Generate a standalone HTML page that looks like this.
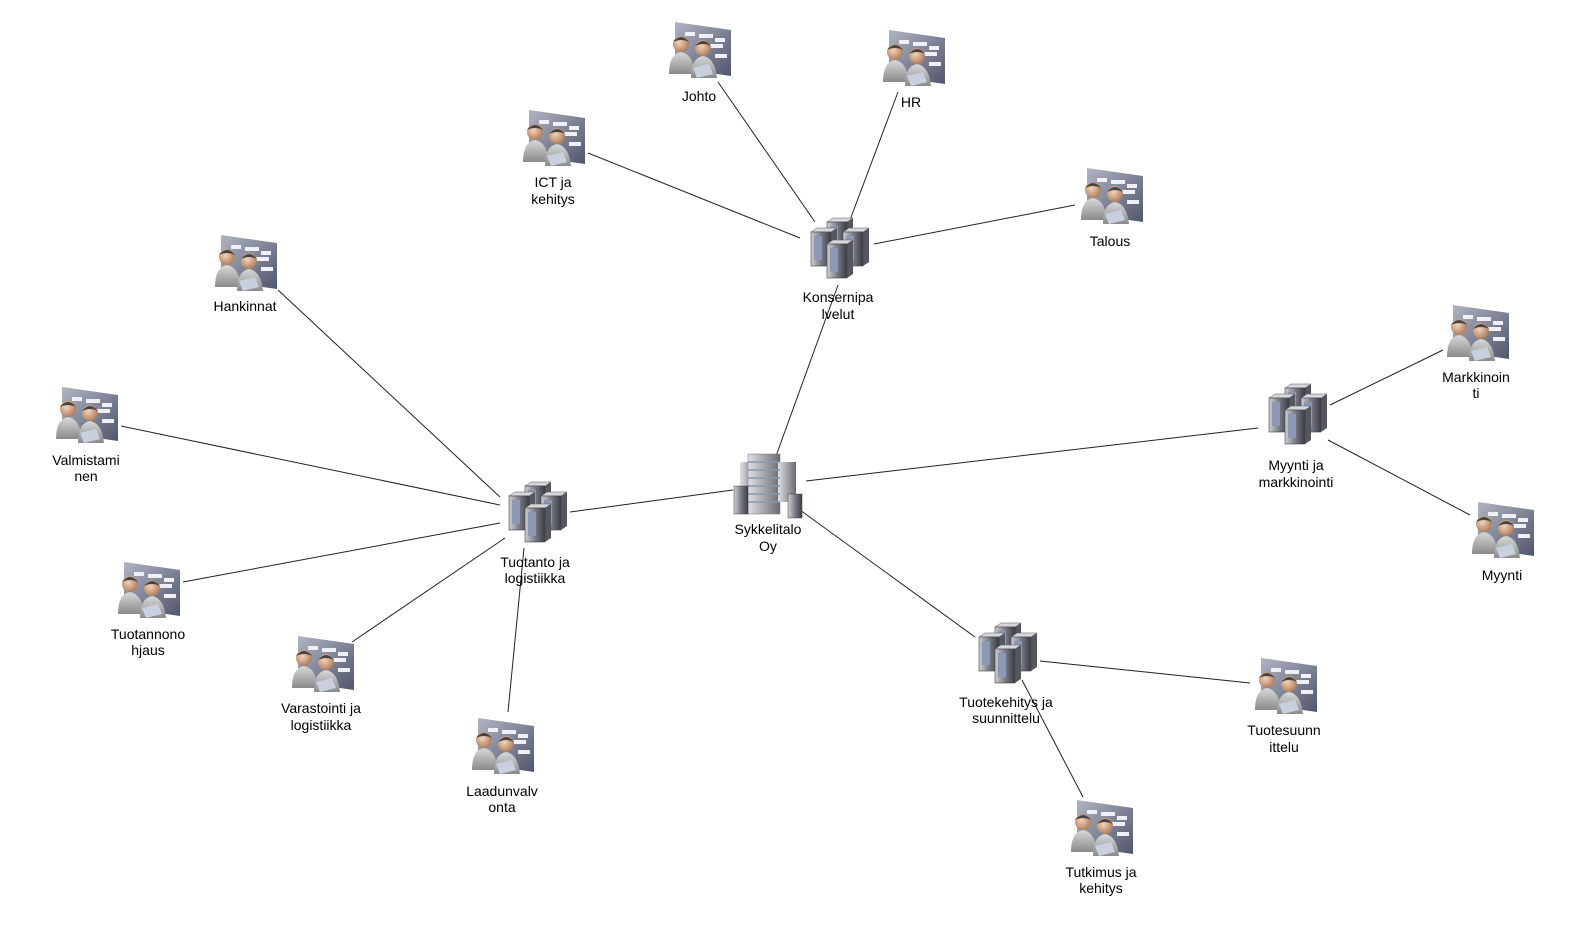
<!DOCTYPE html>
<html><head><meta charset="utf-8"><style>
html,body{margin:0;padding:0;background:#fff;width:1581px;height:927px;overflow:hidden}
svg text{font-family:"Liberation Sans",Arial,sans-serif;font-size:14px;fill:#000;text-anchor:middle}
</style></head><body>
<svg width="1581" height="927" viewBox="0 0 1581 927" xmlns="http://www.w3.org/2000/svg">
<defs>
<linearGradient id="pan" x1="0" y1="0" x2="1" y2="1"><stop offset="0" stop-color="#b0b4c4"/><stop offset="1" stop-color="#50566c"/></linearGradient>
<linearGradient id="body" x1="0" y1="0" x2="0" y2="1"><stop offset="0" stop-color="#d8d8d8"/><stop offset="1" stop-color="#8a8a8a"/></linearGradient>
<radialGradient id="head" cx=".4" cy=".4" r=".6"><stop offset="0" stop-color="#f3d3b8"/><stop offset="1" stop-color="#b08060"/></radialGradient>
<linearGradient id="srv" x1="0" y1="0" x2="1" y2="0"><stop offset="0" stop-color="#d0d0d4"/><stop offset=".5" stop-color="#7a7d88"/><stop offset="1" stop-color="#3a3c44"/></linearGradient>
<linearGradient id="bld" x1="0" y1="0" x2="1" y2="0"><stop offset="0" stop-color="#e0e0e4"/><stop offset="1" stop-color="#6a6a70"/></linearGradient>
<g id="ppl">
 <path d="M-24,-28 L32,-20 L32,26 L-24,18 Z" fill="url(#pan)"/>
 <rect x="-14" y="-18" width="10" height="4" fill="#eef0f6"/><rect x="0" y="-16" width="14" height="4" fill="#eef0f6"/><rect x="16" y="-12" width="10" height="4" fill="#eef0f6"/>
 <rect x="6" y="-6" width="18" height="4" fill="#eef0f6"/><rect x="16" y="4" width="12" height="4" fill="#eef0f6"/>
 <path d="M-30,24 Q-30,4 -18,2 Q-6,4 -4,24 Z" fill="url(#body)"/>
 <circle cx="-18" cy="-6" r="8" fill="url(#head)"/><path d="M-26,-8 Q-18,-18 -10,-8 Q-18,-12 -26,-8Z" fill="#444"/>
 <path d="M-8,28 Q-8,8 4,6 Q16,8 18,28 Z" fill="url(#body)"/>
 <circle cx="4" cy="-2" r="8" fill="url(#head)"/><path d="M-4,-4 Q4,-14 12,-4 Q4,-8 -4,-4Z" fill="#444"/>
 <path d="M-6,18 L10,14 L14,24 L-2,28Z" fill="#c8d0e0"/>
</g>
<g id="srvb">
 <path d="M-10,-16 L-4,-20 L16,-20 L10,-16Z" fill="#d8d8dc" stroke="#555" stroke-width=".5"/>
 <path d="M10,-16 L16,-20 L16,14 L10,18Z" fill="#55575f"/>
 <rect x="-10" y="-16" width="20" height="34" fill="url(#srv)" stroke="#444" stroke-width=".6"/>
 <rect x="-7" y="-12" width="8" height="24" fill="#8d98b4"/>
</g>
<g id="server">
 <use href="#srvb" x="0" y="-14"/><use href="#srvb" x="-16" y="-4"/><use href="#srvb" x="16" y="-4"/><use href="#srvb" x="0" y="8"/>
</g>
<g id="building">
 <rect x="-28" y="-22" width="18" height="38" fill="url(#bld)"/>
 <rect x="-20" y="-30" width="32" height="60" fill="url(#bld)" stroke="#777" stroke-width=".5"/>
 <rect x="10" y="-22" width="18" height="40" fill="url(#bld)"/>
 <path d="M-20,-22 H12 M-20,-14 H12 M-20,-6 H12 M-20,2 H12 M-20,10 H12 M-20,18 H12" stroke="#8a96b8" stroke-width="1.5"/>
 <rect x="-34" y="2" width="14" height="28" fill="url(#srv)" stroke="#444" stroke-width=".5"/>
 <rect x="20" y="10" width="14" height="24" fill="url(#srv)" stroke="#444" stroke-width=".5"/>
</g>
</defs>
<g stroke="#222" stroke-width="1" fill="none">
<line x1="718" y1="82" x2="815" y2="222"/>
<line x1="898" y1="92" x2="850" y2="220"/>
<line x1="588" y1="153" x2="800" y2="238"/>
<line x1="1075" y1="205" x2="874" y2="244"/>
<line x1="838" y1="285" x2="776" y2="456"/>
<line x1="278" y1="290" x2="500" y2="497"/>
<line x1="121" y1="426" x2="500" y2="505"/>
<line x1="183" y1="582" x2="500" y2="523"/>
<line x1="352" y1="642" x2="505" y2="538"/>
<line x1="508" y1="712" x2="524" y2="548"/>
<line x1="570" y1="512" x2="733" y2="490"/>
<line x1="806" y1="481" x2="1258" y2="428"/>
<line x1="1330" y1="405" x2="1443" y2="350"/>
<line x1="1328" y1="440" x2="1470" y2="515"/>
<line x1="800" y1="510" x2="975" y2="637"/>
<line x1="1040" y1="661" x2="1250" y2="683"/>
<line x1="1022" y1="680" x2="1083" y2="797"/>
</g>
<use href="#ppl" x="699" y="50"/>
<use href="#ppl" x="913" y="58"/>
<use href="#ppl" x="553" y="138"/>
<use href="#ppl" x="1111" y="196"/>
<use href="#ppl" x="245" y="263"/>
<use href="#ppl" x="86" y="415"/>
<use href="#ppl" x="1477" y="333"/>
<use href="#ppl" x="1502" y="530"/>
<use href="#ppl" x="148" y="590"/>
<use href="#ppl" x="322" y="664"/>
<use href="#ppl" x="502" y="746"/>
<use href="#ppl" x="1285" y="686"/>
<use href="#ppl" x="1101" y="828"/>
<use href="#server" x="837" y="252"/>
<use href="#server" x="1295" y="418"/>
<use href="#server" x="535" y="516"/>
<use href="#server" x="1005" y="657"/>
<use href="#building" x="768" y="484"/>
<text x="699" y="101">Johto</text>
<text x="911" y="107">HR</text>
<text x="553" y="187">ICT ja</text><text x="553" y="204">kehitys</text>
<text x="1110" y="246">Talous</text>
<text x="245" y="311">Hankinnat</text>
<text x="86" y="465">Valmistami</text><text x="86" y="481">nen</text>
<text x="1476" y="382">Markkinoin</text><text x="1476" y="398">ti</text>
<text x="1502" y="580">Myynti</text>
<text x="148" y="639">Tuotannono</text><text x="148" y="655">hjaus</text>
<text x="321" y="713">Varastointi ja</text><text x="321" y="730">logistiikka</text>
<text x="502" y="796">Laadunvalv</text><text x="502" y="812">onta</text>
<text x="1284" y="735">Tuotesuunn</text><text x="1284" y="752">ittelu</text>
<text x="1101" y="877">Tutkimus ja</text><text x="1101" y="893">kehitys</text>
<text x="838" y="302">Konsernipa</text><text x="838" y="319">lvelut</text>
<text x="1296" y="470">Myynti ja</text><text x="1296" y="487">markkinointi</text>
<text x="535" y="567">Tuotanto ja</text><text x="535" y="583">logistiikka</text>
<text x="1006" y="707">Tuotekehitys ja</text><text x="1006" y="723">suunnittelu</text>
<text x="768" y="534">Sykkelitalo</text><text x="768" y="551">Oy</text>
</svg>
</body></html>
